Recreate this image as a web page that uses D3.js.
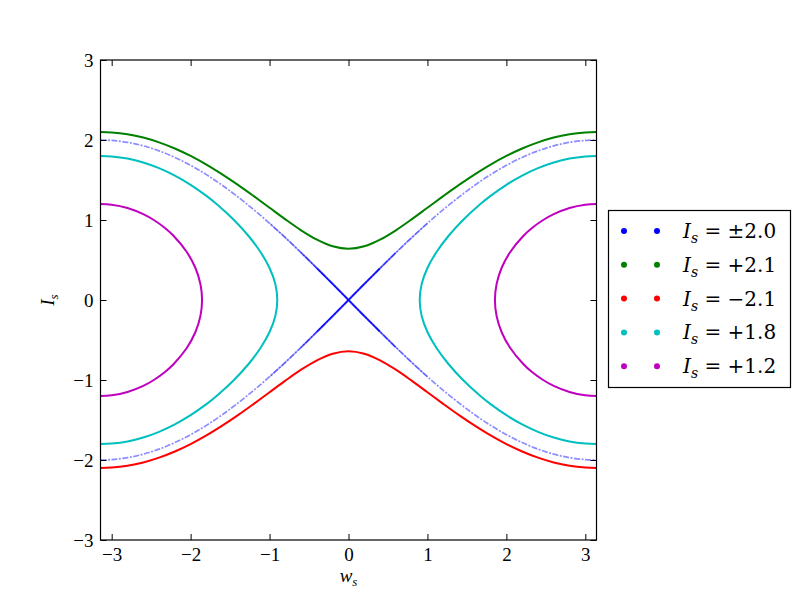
<!DOCTYPE html>
<html>
<head>
  <meta charset="UTF-8">
  <title>Phase portrait</title>
  <script src="https://d3js.org/d3.v7.min.js"></script>
  <style>
    body { margin: 0; background: white; }
  </style>
</head>
<body>
  <div id="chart"></div>
  <script>
    // w_s sample positions shared by the open curves
    const wGrid = [-3.1416, -3.0, -2.8, -2.6, -2.4, -2.2, -2.0, -1.8, -1.6, -1.4, -1.2, -1.0, -0.8, -0.6, -0.4, -0.2, 0,
                   0.2, 0.4, 0.6, 0.8, 1.0, 1.2, 1.4, 1.6, 1.8, 2.0, 2.2, 2.4, 2.6, 2.8, 3.0, 3.1416];

    // I_s = +2.1 (green) and -2.1 (red)
    const greenI = [2.1, 2.095, 2.072, 2.031, 1.971, 1.894, 1.801, 1.693, 1.571, 1.439, 1.298, 1.153, 1.008, 0.871, 0.754, 0.671, 0.640,
                    0.671, 0.754, 0.871, 1.008, 1.153, 1.298, 1.439, 1.571, 1.693, 1.801, 1.894, 1.971, 2.031, 2.072, 2.095, 2.1];
    const redI = [-2.1, -2.095, -2.072, -2.031, -1.971, -1.894, -1.801, -1.693, -1.571, -1.439, -1.298, -1.153, -1.008, -0.871, -0.754, -0.671, -0.640,
                  -0.671, -0.754, -0.871, -1.008, -1.153, -1.298, -1.439, -1.571, -1.693, -1.801, -1.894, -1.971, -2.031, -2.072, -2.095, -2.1];

    // I_s = ±2.0 (blue separatrix, two branches crossing at 0)
    const blueUp = [-2.0, -1.995, -1.971, -1.927, -1.864, -1.782, -1.683, -1.567, -1.435, -1.288, -1.129, -0.959, -0.779, -0.591, -0.397, -0.200, 0,
                    0.200, 0.397, 0.591, 0.779, 0.959, 1.129, 1.288, 1.435, 1.567, 1.683, 1.782, 1.864, 1.927, 1.971, 1.995, 2.0];
    const blueDown = [2.0, 1.995, 1.971, 1.927, 1.864, 1.782, 1.683, 1.567, 1.435, 1.288, 1.129, 0.959, 0.779, 0.591, 0.397, 0.200, 0,
                      -0.200, -0.397, -0.591, -0.779, -0.959, -1.129, -1.288, -1.435, -1.567, -1.683, -1.782, -1.864, -1.927, -1.971, -1.995, -2.0];

    // I_s = +1.8 (cyan), [w, I] points
    const cyanRight = [[3.1416, 1.8], [3.0, 1.794], [2.8, 1.768], [2.6, 1.719], [2.4, 1.648], [2.2, 1.555], [2.0, 1.440], [1.8, 1.302],
                       [1.671, 1.2], [1.451, 1.0], [1.266, 0.8], [1.115, 0.6], [1.000, 0.4], [0.927, 0.2], [0.902, 0],
                       [0.927, -0.2], [1.000, -0.4], [1.115, -0.6], [1.266, -0.8], [1.451, -1.0], [1.671, -1.2], [1.8, -1.302],
                       [2.0, -1.440], [2.2, -1.555], [2.4, -1.648], [2.6, -1.719], [2.8, -1.768], [3.0, -1.794], [3.1416, -1.8]];
    const cyanLeft = [[-3.1416, 1.8], [-3.0, 1.794], [-2.8, 1.768], [-2.6, 1.719], [-2.4, 1.648], [-2.2, 1.555], [-2.0, 1.440], [-1.8, 1.302],
                      [-1.671, 1.2], [-1.451, 1.0], [-1.266, 0.8], [-1.115, 0.6], [-1.000, 0.4], [-0.927, 0.2], [-0.902, 0],
                      [-0.927, -0.2], [-1.000, -0.4], [-1.115, -0.6], [-1.266, -0.8], [-1.451, -1.0], [-1.671, -1.2], [-1.8, -1.302],
                      [-2.0, -1.440], [-2.2, -1.555], [-2.4, -1.648], [-2.6, -1.719], [-2.8, -1.768], [-3.0, -1.794], [-3.1416, -1.8]];

    // I_s = +1.2 (magenta), [w, I] points
    const magentaRight = [[3.1416, 1.2], [3.0, 1.192], [2.8, 1.151], [2.6, 1.074], [2.466, 1.0], [2.325, 0.9], [2.214, 0.8], [2.049, 0.6],
                          [1.939, 0.4], [1.876, 0.2], [1.855, 0], [1.876, -0.2], [1.939, -0.4], [2.049, -0.6], [2.214, -0.8],
                          [2.325, -0.9], [2.466, -1.0], [2.6, -1.074], [2.8, -1.151], [3.0, -1.192], [3.1416, -1.2]];
    const magentaLeft = [[-3.1416, 1.2], [-3.0, 1.192], [-2.8, 1.151], [-2.6, 1.074], [-2.466, 1.0], [-2.325, 0.9], [-2.214, 0.8], [-2.049, 0.6],
                         [-1.939, 0.4], [-1.876, 0.2], [-1.855, 0], [-1.876, -0.2], [-1.939, -0.4], [-2.049, -0.6], [-2.214, -0.8],
                         [-2.325, -0.9], [-2.466, -1.0], [-2.6, -1.074], [-2.8, -1.151], [-3.0, -1.192], [-3.1416, -1.2]];

    const legendLabels = ["±2.0", "+2.1", "\u22122.1", "+1.8", "+1.2"];
    const legendColors = ["#0000ff", "#008000", "#ff0000", "#00bfbf", "#bf00bf"];
    const xTicks = [-3, -2, -1, 0, 1, 2, 3];
    const yTicks = [-3, -2, -1, 0, 1, 2, 3];

    const W = 800, H = 600;
    const plot = {left: 100.5, right: 596.5, top: 60, bottom: 540};
    const serif = "Liberation Serif, DejaVu Serif, serif";
    const wideSerif = "DejaVu Serif, serif";

    const svg = d3.select("#chart").append("svg")
      .attr("width", W).attr("height", H);

    const x = d3.scaleLinear().domain([-Math.PI, Math.PI]).range([plot.left, plot.right]);
    const y = d3.scaleLinear().domain([-3, 3]).range([plot.bottom, plot.top]);

    const fmt = d => d < 0 ? "\u2212" + Math.abs(d) : String(d);

    const line = d3.line()
      .x(d => x(d[0])).y(d => y(d[1]))
      .curve(d3.curveCatmullRom);

    svg.append("clipPath").attr("id", "plotclip").append("rect")
      .attr("x", plot.left).attr("y", plot.top)
      .attr("width", plot.right - plot.left).attr("height", plot.bottom - plot.top);

    const g = svg.append("g").attr("clip-path", "url(#plotclip)");

    // blue separatrix: faint dotted far out, solid near the crossing
    [blueUp, blueDown].forEach(arr => {
      const pts = wGrid.map((w, i) => [w, arr[i]]);
      g.append("path").attr("d", line(pts))
        .attr("fill", "none").attr("stroke", legendColors[0])
        .attr("stroke-width", 1.7).attr("stroke-opacity", 0.45)
        .attr("stroke-dasharray", "6,1.5,2,1.5");
      g.append("path").attr("d", line(pts.filter(p => Math.abs(p[0]) <= 1.0)))
        .attr("fill", "none").attr("stroke", legendColors[0])
        .attr("stroke-width", 1.6).attr("stroke-opacity", 0.3);
      g.append("path").attr("d", line(pts.filter(p => Math.abs(p[0]) <= 0.6)))
        .attr("fill", "none").attr("stroke", legendColors[0])
        .attr("stroke-width", 1.7).attr("stroke-opacity", 0.45);
      g.append("path").attr("d", line(pts.filter(p => Math.abs(p[0]) <= 0.4)))
        .attr("fill", "none").attr("stroke", legendColors[0])
        .attr("stroke-width", 1.8).attr("stroke-opacity", 0.7);
    });

    const solid = [
      [wGrid.map((w, i) => [w, greenI[i]]), legendColors[1]],
      [wGrid.map((w, i) => [w, redI[i]]), legendColors[2]],
      [cyanRight, legendColors[3]],
      [cyanLeft, legendColors[3]],
      [magentaRight, legendColors[4]],
      [magentaLeft, legendColors[4]]
    ];
    solid.forEach(([pts, c]) => {
      g.append("path").attr("d", line(pts))
        .attr("fill", "none").attr("stroke", c).attr("stroke-width", 2);
    });

    // axes, ticks pointing inward on all four sides
    const axB = svg.append("g").attr("transform", `translate(0,${plot.bottom})`)
      .call(d3.axisBottom(x).tickValues(xTicks).tickFormat(fmt).tickSize(-6).tickPadding(8));
    const axL = svg.append("g").attr("transform", `translate(${plot.left},0)`)
      .call(d3.axisLeft(y).tickValues(yTicks).tickFormat(fmt).tickSize(-6).tickPadding(7));
    const axT = svg.append("g").attr("transform", `translate(0,${plot.top})`)
      .call(d3.axisTop(x).tickValues(xTicks).tickFormat("").tickSize(-6));
    const axR = svg.append("g").attr("transform", `translate(${plot.right},0)`)
      .call(d3.axisRight(y).tickValues(yTicks).tickFormat("").tickSize(-6));
    [axB, axL, axT, axR].forEach(a => {
      a.select(".domain").remove();
      a.selectAll("line").attr("stroke", "#000");
      a.selectAll("text").attr("font-size", 19).attr("fill", "#000")
        .attr("font-family", serif);
    });

    svg.append("rect")
      .attr("x", plot.left).attr("y", plot.top)
      .attr("width", plot.right - plot.left).attr("height", plot.bottom - plot.top)
      .attr("fill", "none").attr("stroke", "#000").attr("stroke-width", 1.2);

    // axis labels
    const xl = svg.append("text").attr("x", (plot.left + plot.right) / 2).attr("y", 582)
      .attr("text-anchor", "middle").attr("font-size", 19).attr("font-family", serif);
    xl.append("tspan").attr("font-style", "italic").text("w");
    xl.append("tspan").attr("font-style", "italic").attr("font-size", 13).attr("dy", 4).text("s");

    const yl = svg.append("text")
      .attr("transform", `translate(54,${(plot.top + plot.bottom) / 2}) rotate(-90)`)
      .attr("text-anchor", "middle").attr("font-size", 19).attr("font-family", serif);
    yl.append("tspan").attr("font-style", "italic").text("I");
    yl.append("tspan").attr("font-style", "italic").attr("font-size", 13).attr("dy", 4).text("s");

    // legend
    const lg = svg.append("g");
    lg.append("rect").attr("x", 608.5).attr("y", 210.5).attr("width", 182).attr("height", 177)
      .attr("fill", "white").attr("stroke", "#000").attr("stroke-width", 1.2);
    legendLabels.forEach((lab, i) => {
      const cy = 231 + i * 33.8;
      [624, 657].forEach(cx => {
        lg.append("circle").attr("cx", cx).attr("cy", cy).attr("r", 3).attr("fill", legendColors[i]);
      });
      const t = lg.append("text").attr("x", 683).attr("y", cy + 7)
        .attr("font-size", 20).attr("font-family", wideSerif);
      t.append("tspan").attr("font-style", "italic").text("I");
      t.append("tspan").attr("font-style", "italic").attr("font-size", 14).attr("dy", 5).text("s");
      t.append("tspan").attr("dy", -5).text(" = " + lab);
    });
  </script>
</body>
</html>
